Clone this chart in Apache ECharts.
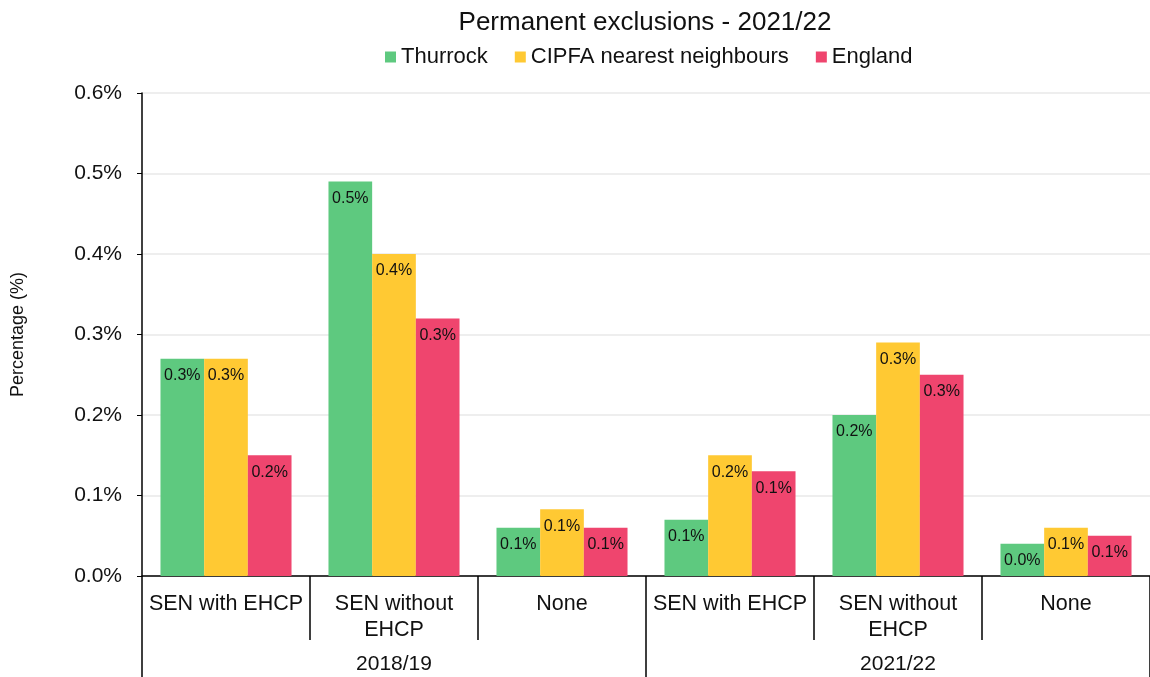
<!DOCTYPE html>
<html>
<head>
<meta charset="utf-8">
<script src="https://cdn.jsdelivr.net/npm/echarts@6/dist/echarts.min.js"></script>
<style>html,body{margin:0;padding:0;background:#fff;}#c{width:1150px;height:677px;}</style>
</head>
<body>
<div id="c"></div>
<script>
var categories = ['SEN with EHCP', 'SEN without\nEHCP', 'None', 'SEN with EHCP', 'SEN without\nEHCP', 'None'];
var groups = ['2018/19', '2021/22'];
var seriesNames = ['Thurrock', 'CIPFA nearest neighbours', 'England'];
var thurrock = [0.27, 0.49, 0.06, 0.07, 0.20, 0.04];
var cipfa = [0.27, 0.40, 0.083, 0.15, 0.29, 0.06];
var england = [0.15, 0.32, 0.06, 0.13, 0.25, 0.05];
var yTicks = [0, 0.6, 0.1];
var colors = ['#5EC97F', '#FFC933', '#EF456E'];

var FONT = 'Liberation Sans, Arial, sans-serif';
function fmtLabel(p) { return (Math.round(p.value * 10 + 1e-9) / 10).toFixed(1) + '%'; }
function mkSeries(name, data, color) {
  return {
    name: name, type: 'bar', data: data, xAxisIndex: 0,
    barGap: '0%', barCategoryGap: '22%',
    itemStyle: { color: color },
    label: { show: true, position: 'insideTop', distance: 9, formatter: fmtLabel,
             color: '#111', fontSize: 16, fontFamily: FONT },
    emphasis: { disabled: true }
  };
}
var chart = echarts.init(document.getElementById('c'), null, { renderer: 'canvas' });
chart.setOption({
  animation: false,
  backgroundColor: '#fff',
  title: { text: 'Permanent exclusions - 2021/22', left: 640, textAlign: 'center', top: 5,
    textStyle: { fontFamily: FONT, fontSize: 26, fontWeight: 'normal', color: '#111' } },
  legend: { top: 41, left: 380, itemWidth: 11, itemHeight: 11, itemGap: 27, icon: 'rect',
    textStyle: { fontFamily: FONT, fontSize: 22, color: '#111' },
    data: seriesNames },
  grid: { left: 142, right: -6, top: 93, bottom: 101, containLabel: false },
  xAxis: [
    { type: 'category', data: categories, position: 'bottom',
      axisLine: { show: true, lineStyle: { color: '#000', width: 1.5 } },
      axisTick: { show: true, length: 64, lineStyle: { color: '#000', width: 1.5 } },
      axisLabel: { fontFamily: FONT, fontSize: 21.5, color: '#111', margin: 15, lineHeight: 26, interval: 0 },
      splitLine: { show: false } },
    { type: 'category', data: groups, position: 'bottom', gridIndex: 0,
      axisLine: { show: false },
      axisTick: { show: true, length: 110, lineStyle: { color: '#000', width: 1.5 } },
      axisLabel: { fontFamily: FONT, fontSize: 21, color: '#111', margin: 78, interval: 0 },
      splitLine: { show: false } }
  ],
  yAxis: { type: 'value', min: yTicks[0], max: yTicks[1], interval: yTicks[2],
    name: 'Percentage (%)', nameLocation: 'middle', nameGap: 115, nameRotate: 90,
    nameTextStyle: { fontFamily: FONT, fontSize: 18, color: '#111' },
    axisLine: { show: true, lineStyle: { color: '#000', width: 1.5 } },
    axisTick: { show: true, length: 5, lineStyle: { color: '#000' } },
    axisLabel: { fontFamily: FONT, fontSize: 21, color: '#111', margin: 20,
      formatter: function (v) { return v.toFixed(1) + '%'; } },
    splitLine: { show: true, lineStyle: { color: '#e8e8e8', width: 1.5 } } },
  series: [
    mkSeries(seriesNames[0], thurrock, colors[0]),
    mkSeries(seriesNames[1], cipfa, colors[1]),
    mkSeries(seriesNames[2], england, colors[2])
  ]
});
</script>
</body>
</html>
